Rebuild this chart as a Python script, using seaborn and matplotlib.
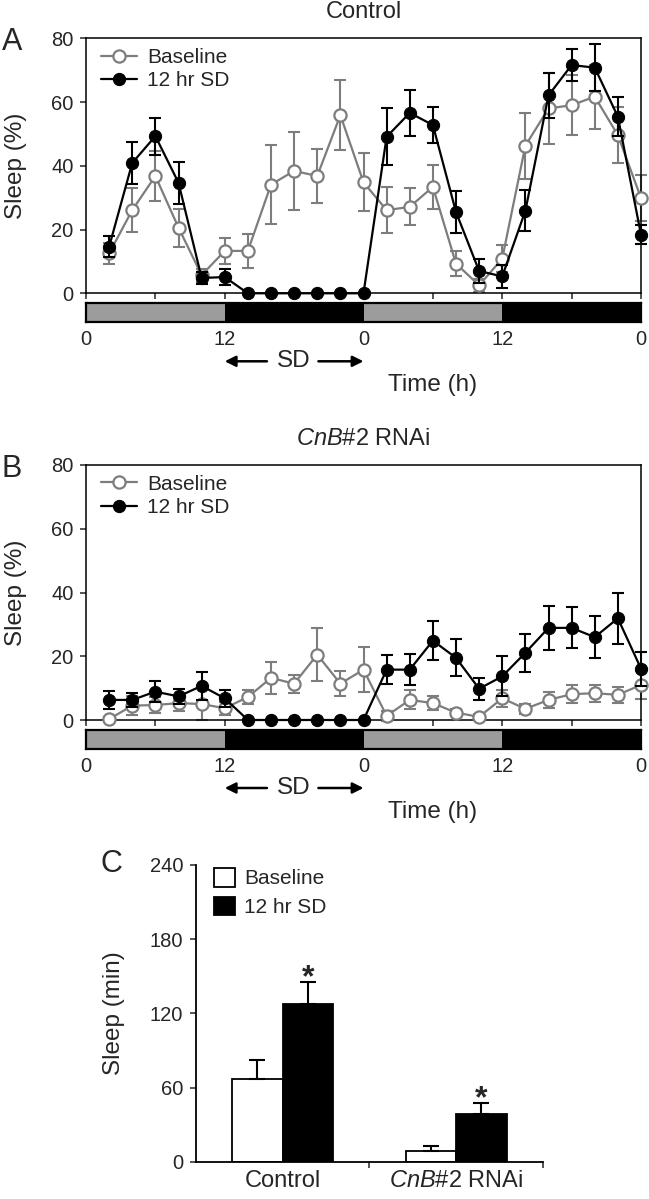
import matplotlib
matplotlib.use('Agg')
import matplotlib.pyplot as plt
import seaborn as sns
import pandas as pd
from matplotlib.transforms import blended_transform_factory

# hourly sleep (%), 2 h bins over two days
hours = [2, 4, 6, 8, 10, 12, 14, 16, 18, 20, 22, 24,
         26, 28, 30, 32, 34, 36, 38, 40, 42, 44, 46, 48]

ctrl_base = [12.5, 26.1, 36.8, 20.6, 5.7, 13.3, 13.3, 34.1, 38.4, 36.8, 55.9, 34.8,
             26.1, 27.1, 33.4, 9.3, 2.5, 10.9, 46.3, 58, 59, 61.7, 49.6, 29.9]
ctrl_base_err = [3.2, 6.8, 7.9, 6, 2, 4.2, 5.4, 12.4, 12.3, 8.5, 11, 9.1,
                 7.3, 5.8, 7, 3.9, 2, 4.2, 10.3, 11.2, 9.4, 10, 8.7, 7.2]
ctrl_sd = [14.6, 40.9, 49.3, 34.7, 4.8, 5.1, 0, 0, 0, 0, 0, 0,
           49.1, 56.6, 52.8, 25.5, 7, 5.3, 25.9, 62.1, 71.6, 70.8, 55.4, 18.4]
ctrl_sd_err = [3.3, 6.6, 5.8, 6.6, 2, 2.6, 0, 0, 0, 0, 0, 0,
               8.9, 7.1, 5.8, 6.6, 3.7, 3.5, 6.5, 7.1, 4.9, 7.4, 6.1, 3]

rnai_base = [0.3, 4.5, 4.7, 5.3, 5, 3.7, 7.2, 13.2, 11.4, 20.5, 11.4, 15.8,
             1.3, 6.3, 5.3, 2.3, 1, 6.8, 3.5, 6.3, 8.1, 8.4, 7.9, 11]
rnai_base_err = [0.5, 3, 2.5, 2.5, 5, 2, 2.3, 5, 2.8, 8.4, 3.9, 7,
                 1.5, 3, 2.2, 1, 1, 2.7, 1.5, 2.5, 2.8, 2.6, 2.6, 4.5]
rnai_sd = [6.3, 6.3, 8.9, 7.4, 10.7, 6.8, 0, 0, 0, 0, 0, 0,
           15.8, 15.8, 24.9, 19.5, 9.8, 13.7, 21.1, 28.9, 28.9, 26, 31.9, 16.1]
rnai_sd_err = [2.9, 2.3, 3.2, 2.3, 4.3, 2.7, 0, 0, 0, 0, 0, 0,
               4.5, 4.9, 6.1, 5.8, 3.4, 6.3, 6, 6.9, 6.4, 6.6, 7.9, 5.3]

# light/dark bar under the time plots
phase_starts = [0, 12, 24, 36]
phase_ends = [12, 24, 36, 48]
phase_colors = ['#9c9c9c', 'black', '#9c9c9c', 'black']
tick_hours = [0, 12, 24, 36, 48]
tick_labels = ['0', '12', '0', '12', '0']
sd_window = [12, 24]

# total sleep (min) after deprivation
groups = ['Control', 'CnB#2 RNAi']
conditions = ['Baseline', '12 hr SD']
total_base = [67.3, 8.6]
total_base_err = [15.3, 4.0]
total_sd = [127.5, 38.2]
total_sd_err = [17.8, 9.4]

sns.set_theme(style='ticks')
plt.rcParams['font.family'] = ['Liberation Sans', 'DejaVu Sans']
plt.rcParams['mathtext.fontset'] = 'custom'
plt.rcParams['mathtext.rm'] = 'Liberation Sans'
plt.rcParams['mathtext.it'] = 'Liberation Sans:italic'

W, H = 649, 1199
GRAY = '#7d7d7d'
fig = plt.figure(figsize=(W / 100, H / 100), dpi=100)


def box(x0, y0, x1, y1):
    return [x0 / W, 1 - y1 / H, (x1 - x0) / W, (y1 - y0) / H]


def time_panel(top, base, base_err, sd, sd_err, title, letter):
    ax = fig.add_axes(box(86, top, 641, top + 255))
    ax.errorbar(hours, base, yerr=base_err, fmt='none', ecolor=GRAY,
                elinewidth=1.5, capsize=4.5, capthick=1.5, zorder=2, clip_on=False)
    sns.lineplot(x=hours, y=base, ax=ax, color=GRAY, lw=1.6, marker='o', ms=8.8,
                 mfc='white', mec=GRAY, mew=1.6, label='Baseline', zorder=3, clip_on=False)
    ax.errorbar(hours, sd, yerr=sd_err, fmt='none', ecolor='black',
                elinewidth=1.5, capsize=4.5, capthick=1.5, zorder=4, clip_on=False)
    sns.lineplot(x=hours, y=sd, ax=ax, color='black', lw=1.6, marker='o', ms=8.8,
                 mfc='black', mec='black', label='12 hr SD', zorder=5, clip_on=False)
    ax.set_xlim(0, 48)
    ax.set_ylim(0, 80)
    ax.set_yticks([0, 20, 40, 60, 80])
    ax.set_xticks(range(0, 49, 6))
    ax.set_xticklabels([])
    ax.tick_params(axis='y', labelsize=14.5, length=4, width=1.1, pad=5, direction='out')
    ax.tick_params(axis='x', length=4, width=1.1, direction='out')
    for s in ax.spines.values():
        s.set_linewidth(1.1)
        s.set_color('black')
    ax.set_xlabel('')
    ax.set_ylabel('Sleep (%)', fontsize=17.5)
    ax.yaxis.set_label_coords(-0.106, 0.5)
    ax.legend(loc='upper left', bbox_to_anchor=(0.027, 0.962), frameon=False,
              fontsize=15, handlelength=1.75, handletextpad=0.45, labelspacing=0.2,
              borderpad=0, borderaxespad=0)

    st = fig.add_axes(box(86, top + 264.5, 641, top + 283.5))
    for s0, s1, c in zip(phase_starts, phase_ends, phase_colors):
        st.axvspan(s0, s1, color=c, lw=0)
    st.set_xlim(0, 48)
    st.set_ylim(0, 1)
    st.set_yticks([])
    st.set_xticks(tick_hours)
    st.set_xticklabels(tick_labels)
    st.tick_params(axis='x', length=0, pad=6, labelsize=14.5)
    for s in st.spines.values():
        s.set_linewidth(1.6)
        s.set_color('black')

    tr = blended_transform_factory(st.transData, fig.transFigure)
    ya = 1 - (top + 323) / H
    mid = (sd_window[0] + sd_window[1]) / 2
    st.text(mid, ya, 'SD', transform=tr, ha='center', va='center', fontsize=17.5)
    arrow = dict(arrowstyle='-|>', color='black', lw=1.8, mutation_scale=16,
                 shrinkA=0, shrinkB=0)
    st.annotate('', xy=(sd_window[0], ya), xytext=(mid - 2.35, ya),
                xycoords=tr, textcoords=tr, arrowprops=arrow, annotation_clip=False)
    st.annotate('', xy=(sd_window[1], ya), xytext=(mid + 2.1, ya),
                xycoords=tr, textcoords=tr, arrowprops=arrow, annotation_clip=False)

    fig.text(433 / W, 1 - (top + 347) / H, 'Time (h)', ha='center', va='center', fontsize=17.5)
    fig.text(363.5 / W, 1 - (top - 26) / H, title, ha='center', va='center', fontsize=17)
    fig.text(2 / W, 1 - (top + 4) / H, letter, ha='left', va='center', fontsize=22)
    return ax


time_panel(38.3, ctrl_base, ctrl_base_err, ctrl_sd, ctrl_sd_err, 'Control', 'A')
time_panel(465, rnai_base, rnai_base_err, rnai_sd, rnai_sd_err, r'$\mathit{CnB}$#2 RNAi', 'B')

# panel C: bar chart
axc = fig.add_axes(box(195.7, 865, 543, 1161.7))
df = pd.DataFrame({
    'group': groups * 2,
    'condition': [conditions[0]] * 2 + [conditions[1]] * 2,
    'sleep': total_base + total_sd,
})
sns.barplot(data=df, x='group', y='sleep', hue='condition', hue_order=conditions,
            order=groups, palette=['white', 'black'], edgecolor='black', linewidth=1.3,
            width=0.58, gap=0, errorbar=None, legend=False, ax=axc)

for cont, means, errs in zip(axc.containers, [total_base, total_sd], [total_base_err, total_sd_err]):
    cx = [p.get_x() + p.get_width() / 2 for p in cont]
    axc.errorbar(cx, means, yerr=[[0] * len(errs), errs], fmt='none', ecolor='black',
                 elinewidth=1.5, capsize=5.5, capthick=1.5, zorder=5)

sd_cont = axc.containers[1]
for p, m, e in zip(sd_cont, total_sd, total_sd_err):
    axc.annotate('*', xy=(p.get_x() + p.get_width() / 2, m + e), xytext=(0, -3),
                 textcoords='offset points', ha='center', va='baseline',
                 fontsize=23, fontweight='bold')

axc.set_xlim(-0.5, 1.5)
axc.set_ylim(0, 240)
axc.set_yticks([0, 60, 120, 180, 240])
axc.set_xticks([0, 1])
axc.set_xticklabels(['Control', r'$\mathit{CnB}$#2 RNAi'])
axc.set_xticks([0.5, 1.5], minor=True)
axc.tick_params(axis='x', which='major', length=0, pad=6, labelsize=17)
axc.tick_params(axis='x', which='minor', length=4, width=1.1, direction='out')
axc.tick_params(axis='y', labelsize=14.5, length=4, width=1.1, pad=5, direction='out')
sns.despine(ax=axc)
for s in ['left', 'bottom']:
    axc.spines[s].set_linewidth(1.3)
    axc.spines[s].set_color('black')
axc.set_xlabel('')
axc.set_ylabel('Sleep (min)', fontsize=17.5)
axc.yaxis.set_label_coords(-0.204, 0.5)
axc.legend(handles=[axc.containers[0][0], axc.containers[1][0]], labels=conditions,
           loc='upper left', bbox_to_anchor=(0.053, 0.99), frameon=False, fontsize=15,
           handlelength=1.0, handleheight=1.0, handletextpad=0.45, labelspacing=0.4,
           borderpad=0, borderaxespad=0)
fig.text(101 / W, 1 - 864 / H, 'C', ha='left', va='center', fontsize=22)

fig.savefig('out.png', dpi=100)
